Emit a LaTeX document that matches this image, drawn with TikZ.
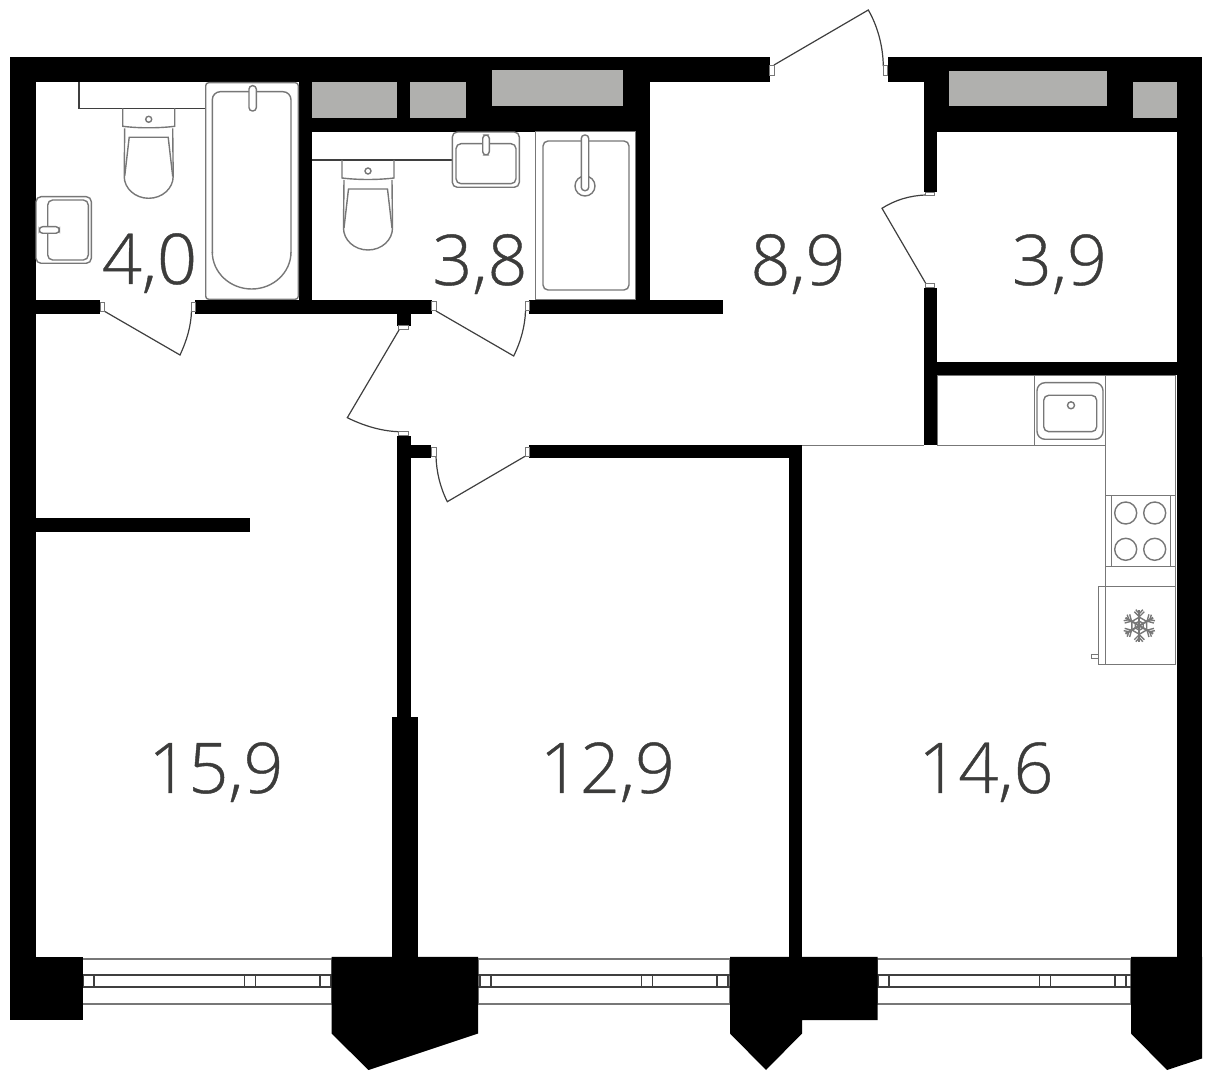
\documentclass[tikz,border=0pt]{standalone}
\usepackage{fontspec}
\newfontfamily\areafont{Open Sans Light}[FakeBold=0.6,AutoFakeBold=false]
\usepackage{tikz}

\definecolor{fixgray}{HTML}{777777}
\definecolor{shaftgray}{HTML}{B0B0AE}
\definecolor{labelgray}{HTML}{3C3C3B}
\definecolor{doorgray}{HTML}{3F3F3F}

\tikzset{
  wall/.style={fill=black},
  shaft/.style={fill=shaftgray},
  fixture/.style={draw=fixgray,line width=0.7pt},
  thinfix/.style={draw=fixgray,line width=0.5pt},
  shelf/.style={draw=doorgray,line width=0.6pt},
  door/.style={draw=doorgray,line width=0.6pt},
  plate/.style={draw=fixgray,fill=white,line width=0.5pt},
  winline/.style={draw=fixgray,line width=0.6pt},
  wininner/.style={draw=doorgray,line width=0.8pt},
  area/.style={anchor=base,inner sep=0pt,text=labelgray,font=\areafont\fontsize{35}{40}\selectfont},
  wc/.pic={
    \draw[fixture] (-26,0) -- (-26,18) .. controls (-10,20) and (10,20) .. (26,18) -- (26,0);
    \draw[fixture] (-24,20) -- (-24.5,68) arc[start angle=180,end angle=0,x radius=24.5,y radius=22] -- (24,20);
    \draw[fixture] (-24,68) -- (-19.5,29) -- (19.5,29) -- (24,68);
    \draw[fixture] (0,11) circle (3);
  }
}

\begin{document}
\begin{tikzpicture}[x=0.5pt,y=-0.5pt]
\useasboundingbox (0,0) rectangle (1212,1080);

% windows
\foreach \wa/\wb/\wc in {82.5/331.5/83,478/730/480,877.5/1131/878}{
  \draw[winline] (\wa,959) rectangle (\wb,1004);
  \draw[wininner] (\wa,975) -- (\wb,975);
  \draw[wininner] (\wa,986.7) -- (\wb,986.7);
  \foreach \wd in {0,161.5,237}{
    \draw[wininner] (\wc+\wd,975) rectangle (\wc+\wd+11,986.7);
  }
}

% walls
\fill[wall] (10,57) rectangle (769.5,82.3);
\fill[wall] (887.5,57) rectangle (1202,82.3);
\fill[wall] (10,57) rectangle (36,957);
\fill[wall] (10,957) rectangle (82.5,1020);
\fill[wall] (299,57) rectangle (650,132);
\fill[wall] (299,82) rectangle (312.3,300);
\fill[wall] (635.7,132) rectangle (650,300);
\fill[wall] (924,57) rectangle (1176.5,132);
\fill[wall] (1176.5,57) rectangle (1202,957);
\fill[wall] (924,132) rectangle (937.3,192.3);
\fill[wall] (924,287.7) rectangle (937.3,445.5);
\fill[wall] (924,361.7) rectangle (1176.5,375.3);
\fill[wall] (36,300) rectangle (100,314);
\fill[wall] (195,300) rectangle (431.7,314);
\fill[wall] (529,300) rectangle (723.3,314);
\fill[wall] (396.7,314) rectangle (410.5,326);
\fill[wall] (36,518) rectangle (250,532);
\fill[wall] (396.7,435.7) rectangle (410.5,717);
\fill[wall] (392,717) rectangle (417.5,957);
\fill[wall] (396.7,445) rectangle (431.3,458.3);
\fill[wall] (529.3,445) rectangle (802,458.3);
\fill[wall] (788.5,445) rectangle (802,957);
\fill[wall] (331.5,957) -- (478,957) -- (478,1033.5) -- (368.5,1070) -- (331.5,1033.5) -- cycle;
\fill[wall] (730,957) -- (877.5,957) -- (877.5,1020) -- (802,1020) -- (802,1033.5) -- (766,1070) -- (730,1033.5) -- cycle;
\fill[wall] (1131,957) -- (1202,957) -- (1202,1058.5) -- (1167,1070) -- (1131,1033.5) -- cycle;

% shafts
\fill[shaft] (312.3,82.3) rectangle (396.7,117.7);
\fill[shaft] (410.3,82.3) rectangle (466,117.7);
\fill[shaft] (492.3,70.3) rectangle (623.3,105.7);
\fill[shaft] (949.3,70.7) rectangle (1107,105.7);
\fill[shaft] (1133.3,82.3) rectangle (1176.5,117.7);

% bath
\draw[shelf] (79,82.3) -- (79,108.3) -- (205.7,108.3);
\draw[fixture,rounded corners=1.5pt] (205.7,82.7) rectangle (298.3,299.3);
\draw[fixture,rounded corners=4pt] (212.3,253) -- (212.3,91.7) -- (291,91.7) -- (291,253);
\draw[fixture] (212.3,252) arc[start angle=180,end angle=0,x radius=39.35,y radius=37];
\draw[fixture,fill=white,rounded corners=1.7pt] (249,85.7) rectangle (256.3,111);
\path (148.7,108.3) pic {wc};
\draw[fixture,rounded corners=2.5pt] (36,196.7) rectangle (91.3,263.3);
\draw[fixture,rounded corners=2.5pt] (47.7,200) rectangle (88.3,260);
\draw[fixture,fill=white,rounded corners=1.7pt] (39.3,226.7) rectangle (59.3,233.3);

% shower room
\draw[shelf] (312.3,160) -- (452.3,160);
\path (368,160) pic {wc};
\draw[fixture,rounded corners=2.5pt] (452.3,132) rectangle (519.3,187.3);
\draw[fixture,rounded corners=2.5pt] (456,143.7) rectangle (516,183.7);
\draw[fixture,fill=white,rounded corners=1.7pt] (482.7,135) rectangle (489.3,155);
\draw[thinfix] (535.7,132) rectangle (635.7,300);
\draw[fixture,rounded corners=2.5pt] (543,141) rectangle (629,290);
\draw[fixture] (585,186) circle (10);
\draw[fixture,fill=white,rounded corners=1.7pt] (581.3,135) rectangle (588.7,190.7);

% kitchen
\draw[thinfix] (802,445.7) -- (924,445.7);
\draw[thinfix] (937.3,375.5) -- (1175.6,375.5);
\draw[thinfix] (937.8,375.5) -- (937.8,445.7) -- (1105.7,445.7) -- (1105.7,586.7);
\draw[thinfix] (1175.6,375.5) -- (1175.6,664.3);
\draw[thinfix] (1034.3,375.3) -- (1034.3,445.7);
\draw[thinfix] (1105.7,375.3) -- (1105.7,445.7);
\draw[fixture,rounded corners=4pt] (1037,382.7) rectangle (1103,439.3);
\draw[fixture,rounded corners=2.5pt] (1043.7,395.3) rectangle (1096.7,431.7);
\draw[fixture] (1071,405.3) circle (3.5);
\draw[thinfix] (1105.7,495.3) rectangle (1175.6,566.7);
\draw[thinfix] (1111,495.3) -- (1111,566.7);
\draw[thinfix] (1170.7,495.3) -- (1170.7,566.7);
\foreach \bx in {1125.7,1154.7}{
  \foreach \by in {513,549.3}{
    \draw[fixture] (\bx,\by) circle (11);
  }
}
\draw[fixture] (1098.7,586.7) rectangle (1175.6,664.3);
\draw[fixture] (1105.7,586.7) -- (1105.7,664.3);
\draw[thinfix] (1091.7,655) rectangle (1098.7,658.5);
\foreach \ang in {0,60,...,300}{
  \begin{scope}[shift={(1139.3,625.7)},rotate=\ang]
    \draw[fixture,line width=1pt] (0,0) -- (0,-16);
    \draw[fixture] (0,-9) -- (-5,-14);
    \draw[fixture] (0,-9) -- (5,-14);
    \draw[fixture] (0,-12) -- (-3.5,-16);
    \draw[fixture] (0,-12) -- (3.5,-16);
    \draw[fixture] (0,-8.5) -- (7.4,-4.3);
    \draw[fixture] (0,-4.5) -- (3.9,-2.3);
  \end{scope}
}

% doors
\draw[door] (104,311) -- (180,355) .. controls (187,340) and (191,326) .. (191.5,311);
\draw[door] (436,311) -- (513.7,356) .. controls (521,341) and (525,326) .. (525.5,311);
\draw[door] (399,330) -- (347.3,417.7) .. controls (362,425) and (380,431) .. (398.3,431.7);
\draw[door] (436,456.3) .. controls (436.5,472) and (440,487) .. (447.3,501.7) -- (525,456.3);
\draw[door] (774,65) -- (868.3,10) .. controls (877,25) and (883,45) .. (883.3,66);
\draw[door] (926,195) .. controls (910,195.5) and (895,200) .. (882,208.3) -- (925.7,283.3);
\draw[plate] (100,302.3) rectangle (104,311.7);
\draw[plate] (191,302.3) rectangle (195,311.7);
\draw[plate] (431.7,301.7) rectangle (436,311);
\draw[plate] (525,301.7) rectangle (529,311);
\draw[plate] (398.3,326) rectangle (408.7,330);
\draw[plate] (398.3,431.7) rectangle (408.7,435.7);
\draw[plate] (431.3,447.7) rectangle (436,456.3);
\draw[plate] (525,447.7) rectangle (529.3,456.3);
\draw[plate] (769.5,65.3) rectangle (774,75.7);
\draw[plate] (883,65.3) rectangle (887.5,75.7);
\draw[plate] (925.7,192.5) rectangle (934.3,196);
\draw[plate] (925.7,283.5) rectangle (934.3,287.7);

% areas
\node[area] (bath) at (149.5,284) {4,0};
\node[area] (shower) at (480,285) {3,8};
\node[area] (hall) at (798,285) {8,9};
\node[area] (store) at (1059.5,285) {3,9};
\node[area] (bedroomA) at (216,793) {15,9};
\node[area] (bedroomB) at (607.5,793) {12,9};
\node[area] (kitchen) at (986,793) {14,6};
\end{tikzpicture}
\end{document}
